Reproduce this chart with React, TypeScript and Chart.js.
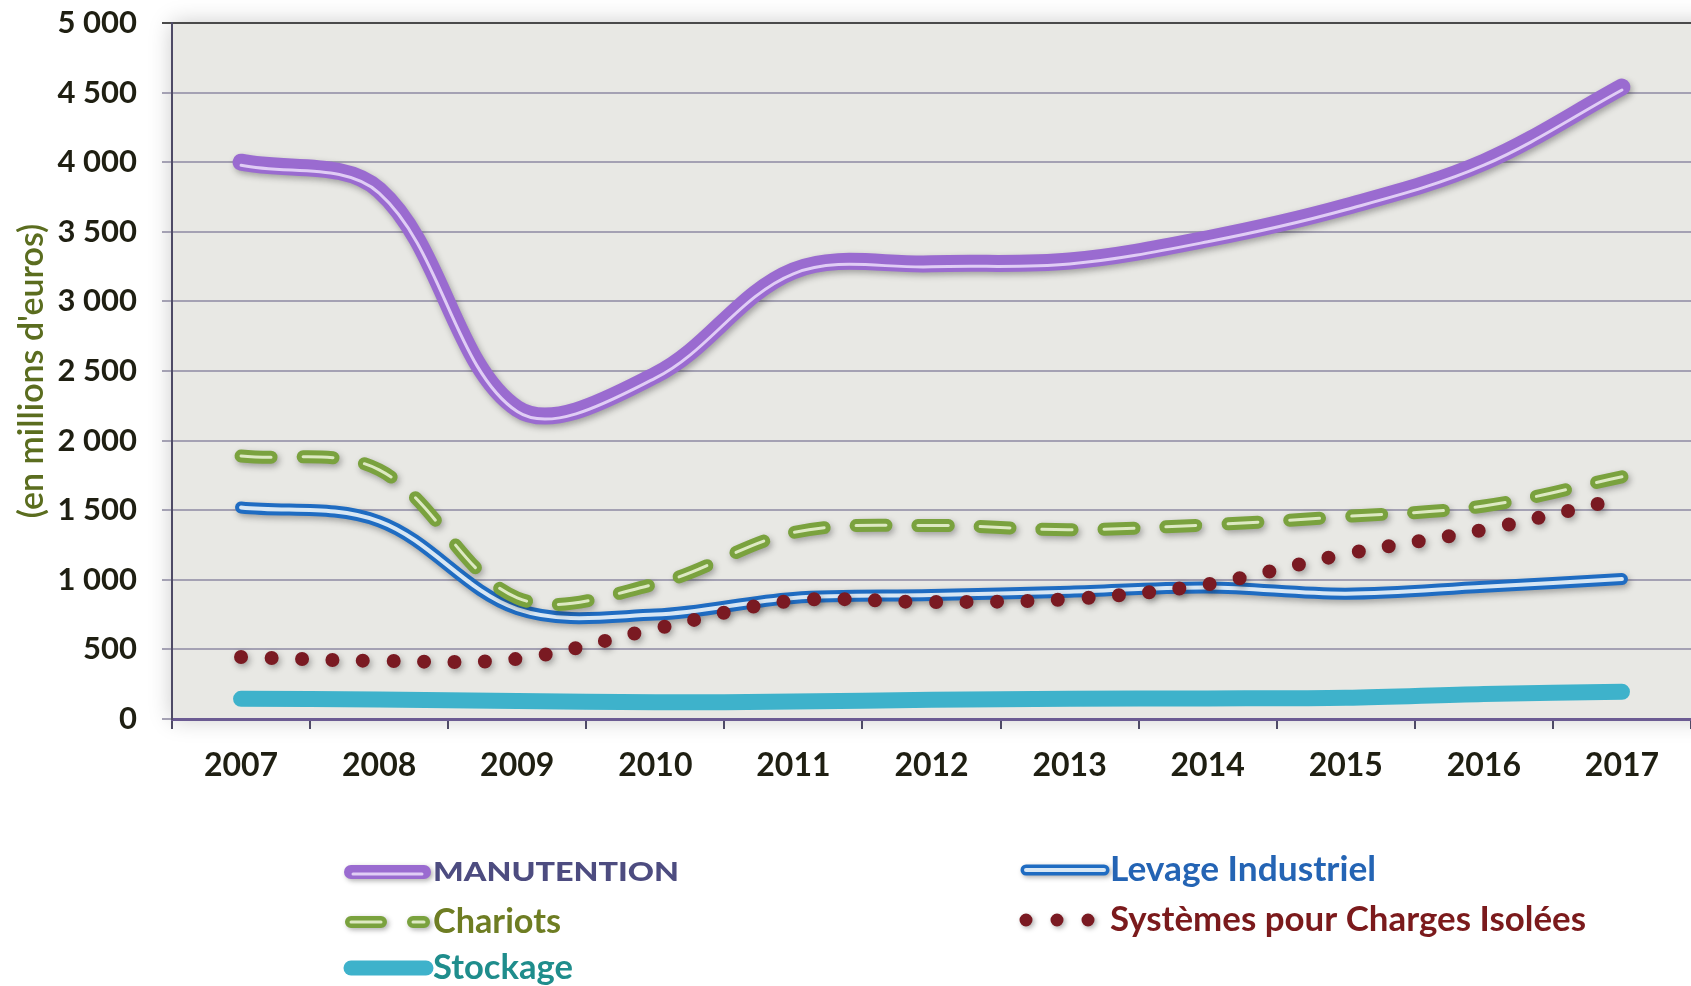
import React, { useEffect, useRef } from 'react';
import { Chart, registerables } from 'chart.js';

Chart.register(...registerables);

// ---- data ----
const years = ['2007', '2008', '2009', '2010', '2011', '2012', '2013', '2014', '2015', '2016', '2017'];
const manutention = [4000, 3800, 2230, 2470, 3220, 3270, 3290, 3450, 3680, 4000, 4540];
const chariots = [1890, 1790, 870, 970, 1340, 1390, 1360, 1395, 1455, 1530, 1740];
const levage = [1520, 1420, 790, 750, 870, 890, 915, 945, 900, 950, 1005];
const systemes = [445, 418, 432, 648, 850, 840, 862, 968, 1185, 1360, 1585];
const stockage = [145, 140, 130, 120, 125, 138, 145, 148, 152, 180, 195];
const yMin = 0;
const yMax = 5000;
const yStep = 500;

const seriesNames = ['MANUTENTION', 'Chariots', 'Stockage', 'Levage Industriel', 'Systèmes pour Charges Isolées'];

const W = 1691;
const H = 986;

const C = {
  purple: '#9a6bd0',
  purpleIn: '#e0cdf5',
  green: '#7aa23e',
  greenIn: '#dde9c2',
  blue: '#1f6cc2',
  blueIn: '#d8e7f4',
  teal: '#3eb2cb',
  dots: '#7a1a22',
};

const FONT = 'Lato, "Open Sans", sans-serif';

const fmt = (v: number) => String(v).replace(/\B(?=(\d{3})+(?!\d))/g, ' ');

const fxPlugin = {
  id: 'fx',
  beforeDraw(chart: any) {
    const { ctx, chartArea: a } = chart;
    ctx.save();
    ctx.fillStyle = '#ffffff';
    ctx.fillRect(0, 0, chart.width, chart.height);
    ctx.shadowColor = 'rgba(0,0,0,0.22)';
    ctx.shadowBlur = 22;
    ctx.fillStyle = '#e8e8e4';
    ctx.fillRect(a.left, a.top, a.right - a.left + 40, a.bottom - a.top);
    ctx.restore();
  },
  beforeDatasetDraw(chart: any, args: any) {
    const ds: any = chart.data.datasets[args.index];
    const ctx = chart.ctx;
    ctx.save();
    if (ds.shadow) {
      ctx.shadowColor = 'rgba(30,30,30,0.35)';
      ctx.shadowBlur = 6;
      ctx.shadowOffsetX = 2;
      ctx.shadowOffsetY = 3;
    }
    if (ds.shiftY) ctx.translate(0, ds.shiftY);
  },
  afterDatasetDraw(chart: any) {
    chart.ctx.restore();
  },
  afterDraw(chart: any) {
    const ctx = chart.ctx as CanvasRenderingContext2D;
    const line = (x1: number, x2: number, y: number, color: string, w: number, dash: number[] = [], shadow = false) => {
      ctx.save();
      if (shadow) {
        ctx.shadowColor = 'rgba(30,30,30,0.35)';
        ctx.shadowBlur = 5;
        ctx.shadowOffsetX = 2;
        ctx.shadowOffsetY = 2;
      }
      ctx.strokeStyle = color;
      ctx.lineWidth = w;
      ctx.lineCap = 'round';
      ctx.setLineDash(dash);
      ctx.beginPath();
      ctx.moveTo(x1, y);
      ctx.lineTo(x2, y);
      ctx.stroke();
      ctx.restore();
    };
    // text stretched horizontally to the reference's width
    const text = (s: string, x: number, y: number, color: string, font: string, width: number) => {
      ctx.save();
      ctx.fillStyle = color;
      ctx.font = font;
      ctx.textAlign = 'left';
      ctx.textBaseline = 'middle';
      const m = ctx.measureText(s).width;
      const sx = Math.max(0.8, Math.min(1.3, width / m));
      ctx.translate(x, y);
      ctx.scale(sx, 1);
      ctx.fillText(s, 0, 0);
      ctx.restore();
    };
    // left column
    line(351, 424, 872, C.purple, 14, [], true);
    line(353, 422, 874, C.purpleIn, 3);
    text(seriesNames[0], 433, 872, '#4d4c80', `900 27px ${FONT}`, 246);

    line(351, 424, 922, C.green, 12, [30, 32], true);
    line(351, 424, 922, C.greenIn, 3, [30, 32]);
    text(seriesNames[1], 433, 922, '#6e7d23', `bold 34px ${FONT}`, 128);

    line(351, 426, 968, C.teal, 15, [], false);
    text(seriesNames[2], 433, 968, '#1f8d8c', `bold 34px ${FONT}`, 140);

    // right column
    line(1026, 1104, 870, C.blue, 11, [], true);
    line(1026, 1104, 870, C.blueIn, 4);
    text(seriesNames[3], 1110, 870, '#2464b4', `bold 34px ${FONT}`, 266);

    line(1026, 1090, 920, C.dots, 13, [0, 31], true);
    text(seriesNames[4], 1110, 920, '#7b1a1c', `bold 34px ${FONT}`, 476);
  },
};

export default function App() {
  const ref = useRef<HTMLCanvasElement>(null);

  useEffect(() => {
    if (!ref.current) return;
    const common = { pointRadius: 0, pointHoverRadius: 0, tension: 0.35, fill: false, borderCapStyle: 'round', borderJoinStyle: 'round' };
    const chart = new Chart(ref.current, {
      type: 'line',
      data: {
        labels: years,
        datasets: [
          { ...common, label: seriesNames[0] + ' (reflet)', data: manutention, borderColor: C.purpleIn, borderWidth: 3, shiftY: 3 } as any,
          { ...common, label: seriesNames[0], data: manutention, borderColor: C.purple, borderWidth: 17, shadow: true } as any,
          { ...common, label: seriesNames[4], data: systemes, borderColor: C.dots, borderWidth: 14, borderDash: [0, 30.5], shadow: true } as any,
          { ...common, label: seriesNames[1] + ' (reflet)', data: chariots, borderColor: C.greenIn, borderWidth: 3, borderDash: [30, 32] } as any,
          { ...common, label: seriesNames[1], data: chariots, borderColor: C.green, borderWidth: 13, borderDash: [30, 32], shadow: true } as any,
          { ...common, label: seriesNames[3] + ' (reflet)', data: levage, borderColor: C.blueIn, borderWidth: 4 } as any,
          { ...common, label: seriesNames[3], data: levage, borderColor: C.blue, borderWidth: 12, shadow: true } as any,
          { ...common, label: seriesNames[2], data: stockage, borderColor: C.teal, borderWidth: 16 } as any,
        ],
      },
      options: {
        responsive: false,
        animation: false,
        devicePixelRatio: 1,
        layout: { padding: { top: 23, left: 0, right: 0, bottom: 0 } },
        plugins: {
          legend: { display: false },
          tooltip: { enabled: false },
        },
        scales: {
          x: {
            offset: true,
            grid: { display: true, drawOnChartArea: false, drawTicks: true, tickLength: 10, offset: true, color: '#4e4a66', lineWidth: 2 },
            border: { display: true, color: '#6b5b92', width: 3 },
            ticks: { font: { family: FONT, size: 32, weight: 'bold' }, color: '#1f1f12', padding: 17, maxRotation: 0, autoSkip: false },
            afterFit: (s: any) => { s.height = 267; },
          },
          y: {
            min: yMin,
            max: yMax,
            ticks: {
              stepSize: yStep,
              callback: (v: any) => fmt(Number(v)),
              font: { family: FONT, size: 31, weight: 'bold' },
              color: '#1f1f12',
              padding: 25,
            },
            grid: {
              color: (c: any) => (c.tick && c.tick.value === yMax ? '#4a4a4a' : '#a4a1b3'),
              lineWidth: 2,
              tickLength: 10,
              drawTicks: true,
            },
            border: { display: true, color: '#4e4a66', width: 2 },
            title: {
              display: true,
              text: "(en millions d'euros)",
              color: '#5b6d1f',
              font: { family: FONT, size: 34, weight: '600' },
              padding: { top: 12, bottom: 0 },
            },
            afterFit: (s: any) => {
              s.width = 172;
              s.paddingTop = 0;
              s.paddingBottom = 0;
            },
          },
        },
      } as any,
      plugins: [fxPlugin],
    });
    return () => chart.destroy();
  }, []);

  return (
    <div style={{ position: 'fixed', left: 0, top: 0, width: W, height: H, background: '#fff' }}>
      <canvas ref={ref} width={W} height={H} style={{ width: W, height: H, display: 'block' }} />
    </div>
  );
}
